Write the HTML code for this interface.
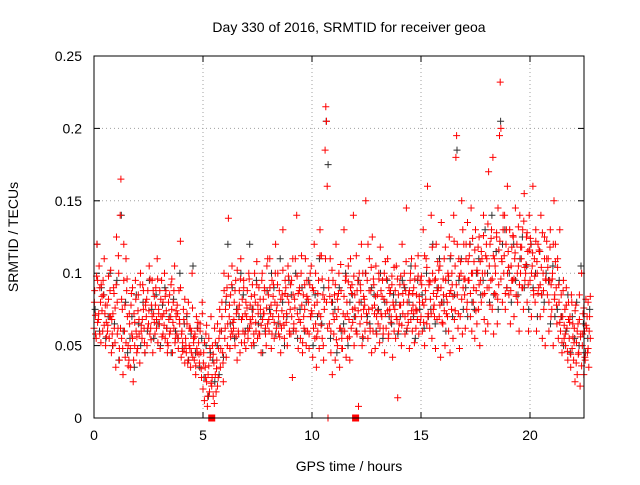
<!DOCTYPE html>
<html><head><meta charset="utf-8"><style>
html,body{margin:0;padding:0;background:#fff}
svg text{font-family:"Liberation Sans",sans-serif;font-size:14px;fill:#000}
</style></head><body>
<svg id="chart" width="640" height="480" xmlns="http://www.w3.org/2000/svg">
<text x="349" y="32" text-anchor="middle">Day 330 of 2016, SRMTID for receiver geoa</text>
<text x="349" y="471" text-anchor="middle">GPS time / hours</text>
<text transform="translate(18,237) rotate(-90)" text-anchor="middle">SRMTID / TECUs</text>
<g id="grid"></g><g id="ticks"></g><g id="marks"></g>
<rect x="94" y="56" width="490" height="362" fill="none" stroke="#000" stroke-width="1"/>
</svg>
<script>
const xTicks=[0,5,10,15,20];
const yTicks=[0,0.05,0.1,0.15,0.2,0.25];
const yTickLabels=["0","0.05","0.1","0.15","0.2","0.25"];
const binStart=0, binWidth=0.2;
// red series: values (thousandths of TECU) per 0.2h bin
const redBins=[
[62,88,71,55,120,95],[68,105,58,80,92,74],[60,85,110,72,50,66],[78,64,98,55,88,70],[45,58,72,90,62,52],
[35,125,80,62,100,48],[140,165,55,75,30,95],[60,42,110,88,70,50],[40,65,35,78,58,90],[25,72,50,95,60,45],
[48,85,68,38,100,60],[55,92,75,62,45,80],[70,50,88,65,105,58],[62,78,95,45,72,84],[58,90,68,110,52,75],
[65,48,82,95,70,58],[72,100,55,88,62,45],[50,68,85,60,92,75],[45,80,62,105,55,70],[58,72,48,88,65,122],
[42,60,52,75,48,38],[55,45,65,38,80,50],[48,35,60,100,42,55],[40,58,30,70,45,62],[52,38,65,45,28,80],
[20,45,12,35,58,25],[8,30,55,18,42,70],[22,50,15,38,62,30],[18,40,65,28,55,75],[35,60,80,45,25,100],
[55,75,42,90,65,138],[70,48,85,60,105,58],[62,80,50,95,72,40],[75,58,88,45,110,68],[82,60,95,52,72,48],
[70,88,55,100,62,78],[65,50,92,75,58,85],[80,60,108,55,72,90],[58,75,45,95,68,82],[72,88,62,50,105,65],
[85,60,110,72,48,95],[70,92,55,80,120,62],[78,100,58,88,65,45],[62,85,130,70,55,95],[90,72,50,105,80,60],
[75,58,95,28,85,65],[82,110,60,140,72,48],[68,90,55,100,78,45],[85,62,75,110,50,95],[60,80,48,92,70,105],
[72,42,88,120,55,65],[35,80,60,95,48,130],[70,112,55,85,40,75],[185,215,205,160,0,90],[65,110,45,80,30,95],
[58,85,40,120,70,50],[75,100,35,62,88,55],[48,72,130,60,95,42],[80,55,105,68,40,90],[62,92,75,140,50,85],
[70,112,58,95,8,80],[65,88,120,50,100,75],[82,60,150,72,95,55],[75,110,62,88,45,125],[60,92,78,48,105,70],
[85,65,100,52,118,72],[70,95,58,82,45,108],[62,80,110,55,90,75],[88,70,98,42,78,60],[75,55,105,68,14,85],
[65,92,78,50,120,72],[80,100,58,88,145,62],[72,85,48,95,68,110],[60,78,90,52,105,75],[85,68,112,58,80,95],
[70,92,60,130,78,50],[88,110,65,160,72,95],[62,82,140,55,100,75],[78,95,48,120,68,88],[90,70,105,42,135,80],
[65,85,110,50,95,72],[80,100,60,125,45,88],[75,92,55,140,68,105],[180,195,85,62,110,48],[70,100,150,58,90,120],
[85,62,110,75,135,95],[95,120,70,145,60,100],[80,108,55,130,88,65],[100,75,125,50,95,115],[110,85,140,68,100,60],
[120,90,65,170,105,78],[95,130,75,180,58,110],[105,85,125,65,145,92],[195,232,200,110,80,130],[100,140,75,120,90,160],
[115,85,130,65,105,95],[95,125,70,110,145,85],[120,80,105,60,140,100],[110,90,130,75,155,95],[100,125,80,115,60,140],
[95,120,70,105,160,85],[110,80,130,60,100,120],[90,115,70,140,85,55],[100,75,125,50,95,110],[85,110,60,95,130,70],
[75,100,50,150,85,120],[90,65,110,55,80,130],[60,85,45,70,95,55],[75,50,90,62,40,80],[55,70,35,85,48,65],
[40,62,25,78,52,30],[65,45,85,22,58,100],[50,72,30,60,40,82],[62,45,80,35,70,55]];
// red series, second receiver pass (offset half a bin)
const redBins2=[
[80,58,98,66],[72,90,52,84],[95,64,78,56],[60,82,70,102],[68,50,86,76],
[92,58,112,40],[62,82,48,120],[78,52,96,36],[72,48,86,55],[40,66,82,56],
[74,58,92,64],[68,88,52,78],[82,62,74,96],[54,70,88,66],[78,62,96,72],
[88,70,56,80],[64,84,74,52],[80,58,70,96],[66,88,52,74],[78,55,68,90],
[58,46,68,82],[50,72,40,62],[62,45,76,52],[56,36,48,66],[44,60,34,72],
[38,52,28,64],[15,36,48,24],[28,44,10,52],[34,22,48,60],[48,70,38,88],
[62,84,50,98],[78,56,92,66],[68,88,56,102],[60,78,96,52],[70,90,58,80],
[76,60,96,68],[84,70,52,100],[66,92,78,58],[82,64,100,72],[90,58,76,110],
[68,90,78,58],[84,66,100,74],[92,70,56,82],[74,102,64,86],[66,84,98,58],
[92,70,110,62],[76,60,98,86],[88,66,112,52],[70,92,60,84],[82,58,100,74],
[90,62,78,100],[56,86,72,112],[64,96,50,82],[110,80,62,95],[84,60,102,72],
[68,92,54,82],[86,62,106,48],[60,84,70,98],[72,94,56,110],[86,66,98,76],
[60,88,74,100],[92,70,56,84],[78,100,66,120],[88,60,104,76],[96,72,84,58],
[74,96,62,88],[84,62,100,72],[96,74,58,86],[66,92,80,104],[88,70,96,60],
[78,98,64,86],[92,70,108,80],[66,88,100,74],[86,72,96,62],[74,98,84,66],
[98,80,66,112],[82,104,70,92],[94,72,118,86],[70,96,84,108],[102,78,90,66],
[96,74,118,84],[70,98,86,112],[100,84,122,74],[92,120,72,98],[108,82,130,96],
[96,120,80,108],[112,86,100,124],[90,116,74,102],[118,92,108,80],[100,126,86,112],
[110,134,90,120],[124,96,112,86],[100,128,82,116],[122,96,108,140],[112,86,130,100],
[104,130,88,118],[126,96,114,84],[100,132,92,118],[118,90,136,104],[106,128,92,116],
[124,100,114,88],[98,122,108,86],[116,92,104,128],[88,110,96,122],[104,80,118,92],
[96,120,82,108],[78,104,92,66],[70,52,88,64],[58,78,46,68],[66,44,80,56],
[52,74,38,60],[44,68,56,36],[58,76,42,64],[70,48,60,84]];
// black series: values per 0.2h bin
const blackBins=[
[75,120],[60,90],[85,55],[70,100],[50,65],[95,40],[140,60],[80,45],[55,70],[35,85],
[65,50],[80,45],[60,95],[75,55],[85,65],[50,78],[90,62],[70,45],[82,60],[55,100],
[48,65],[70,40],[58,105],[45,62],[35,55],[28,50],[15,45],[40,25],[50,30],[60,42],
[80,120],[65,90],[55,75],[70,100],[85,60],[62,120],[75,50],[95,65],[70,45],[60,88],
[75,100],[90,58],[65,110],[80,50],[70,95],[85,60],[100,55],[75,90],[60,80],[95,70],
[50,85],[70,110],[65,90],[205,175],[55,80],[75,45],[90,60],[65,100],[50,80],[85,70],
[60,95],[80,55],[100,70],[65,90],[85,60],[75,100],[55,80],[95,70],[65,85],[80,58],
[70,95],[90,60],[80,105],[70,55],[95,75],[85,62],[100,70],[75,120],[65,90],[110,80],
[80,60],[95,110],[70,85],[185,95],[110,75],[90,70],[120,80],[75,100],[110,85],[95,130],
[100,80],[140,85],[115,75],[205,120],[130,90],[100,80],[120,95],[85,110],[125,90],[105,75],
[120,90],[100,70],[115,85],[80,100],[95,65],[105,70],[75,95],[70,50],[60,85],[45,70],
[55,80],[50,105],[65,45],[55,75]];
const zeroMarkers=[5.4,12.0];

const NS="http://www.w3.org/2000/svg";
const X0=94,X1=584,Y0=418,Y1=56,YMAX=0.25,PXH=21.8;
function xs(t){return X0+t*PXH;}
function ys(v){return Y0-(v/YMAX)*(Y0-Y1);}
const grid=document.getElementById('grid'),ticks=document.getElementById('ticks'),marks=document.getElementById('marks');
function mk(tag,attrs,parent){const e=document.createElementNS(NS,tag);for(const k in attrs)e.setAttribute(k,attrs[k]);parent.appendChild(e);return e;}
xTicks.forEach(t=>{
  const x=xs(t);
  if(t>0){const g=mk('line',{x1:x,x2:x,y1:Y1,y2:Y0,stroke:'#a0a0a0','stroke-dasharray':'1,3'},grid);
  
  }
  mk('line',{x1:x,x2:x,y1:Y0,y2:Y0-6,stroke:'#000'},ticks);
  mk('line',{x1:x,x2:x,y1:Y1,y2:Y1+6,stroke:'#000'},ticks);
  const tx=mk('text',{x:x,y:Y0+22,'text-anchor':'middle'},ticks);tx.textContent=t;
  
  
});
yTicks.forEach((v,i)=>{
  const y=ys(v);
  if(i>0&&i<yTicks.length-1){const g=mk('line',{x1:X0,x2:X1,y1:y,y2:y,stroke:'#a0a0a0','stroke-dasharray':'1,3'},grid);
  
  }
  mk('line',{x1:X0,x2:X0+6,y1:y,y2:y,stroke:'#000'},ticks);
  mk('line',{x1:X1,x2:X1-6,y1:y,y2:y,stroke:'#000'},ticks);
  const tx=mk('text',{x:X0-12,y:y+5,'text-anchor':'end'},ticks);tx.textContent=yTickLabels[i];
  
  
});
function plus(t,v){const x=xs(t),y=ys(v/1000);return `M${(x-3.5).toFixed(1)} ${y.toFixed(1)}h7M${x.toFixed(1)} ${(y-3.5).toFixed(1)}v7`;}
let dB='';
blackBins.forEach((b,i)=>b.forEach((v,j)=>{dB+=plus(binStart+i*binWidth+0.05+j*0.09,v);}));
const pb=mk('path',{d:dB,stroke:'#303030','stroke-width':1,fill:'none'},marks);


let dR='';
redBins.forEach((b,i)=>b.forEach((v,j)=>{dR+=plus(binStart+i*binWidth+j*0.033,v);}));
redBins2.forEach((b,i)=>b.forEach((v,j)=>{dR+=plus(binStart+i*binWidth+0.017+j*0.05,v);}));
const pr=mk('path',{d:dR,stroke:'#ff0000','stroke-width':1,fill:'none'},marks);


zeroMarkers.forEach(t=>{
  const r=mk('rect',{x:xs(t)-3.5,y:Y0-3.5,width:7,height:7,fill:'#ff0000'},marks);
  
  
});
</script>
</body></html>
